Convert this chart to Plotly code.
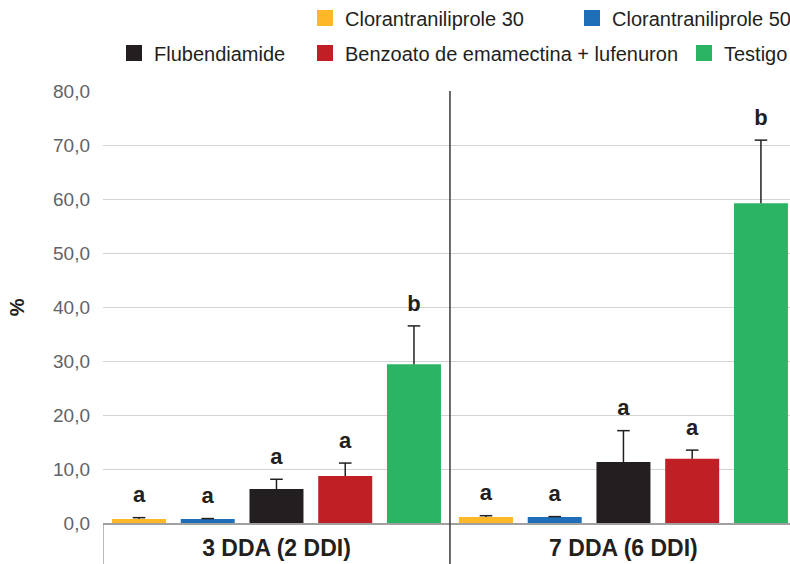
import plotly.graph_objects as go

categories = ["3 DDA (2 DDI)", "7 DDA (6 DDI)"]
series_names = ["Clorantraniliprole 30", "Clorantraniliprole 50", "Flubendiamide",
                "Benzoato de emamectina + lufenuron", "Testigo"]
values_c30 = [0.74, 1.1]
values_c50 = [0.74, 1.1]
values_flu = [6.3, 11.3]
values_ben = [8.7, 11.9]
values_tes = [29.4, 59.2]
err_c30 = [0.25, 0.25]
err_c50 = [0.08, 0.08]
err_flu = [1.8, 5.8]
err_ben = [2.4, 1.6]
err_tes = [7.1, 11.7]
letters_c30 = ["a", "a"]
letters_c50 = ["a", "a"]
letters_flu = ["a", "a"]
letters_ben = ["a", "a"]
letters_tes = ["b", "b"]
y_ticks = [0, 10, 20, 30, 40, 50, 60, 70, 80]

colors = ["#FDB827", "#1F6FB8", "#231F20", "#C01F26", "#2AB463"]
values = [values_c30, values_c50, values_flu, values_ben, values_tes]
errors = [err_c30, err_c50, err_flu, err_ben, err_tes]
letters = [letters_c30, letters_c50, letters_flu, letters_ben, letters_tes]

FONT = "Liberation Sans, Arial, Helvetica, sans-serif"
DARK = "#231F20"
W, H = 790, 564

# legend placement (pixels in the page): item left x, row centre y
legend_ids = ["legend", "legend2", "legend3", "legend4", "legend5"]
legend_x_px = [305, 572, 114, 305, 684]
legend_y_px = [18, 18, 53, 53, 53]

fig = go.Figure()
for i, name in enumerate(series_names):
    fig.add_trace(go.Bar(
        x=categories, y=values[i], name=name,
        marker=dict(color=colors[i], line=dict(width=0)),
        offsetgroup=str(i),
        error_y=dict(type="data", array=errors[i], arrayminus=[0] * len(errors[i]),
                     symmetric=False, color=DARK, thickness=1.5, width=0),
        showlegend=False,
        hoverinfo="skip",
    ))
tops = [[v + e for v, e in zip(values[i], errors[i])] for i in range(5)]
for i, name in enumerate(series_names):
    # error bar caps
    fig.add_trace(go.Scatter(
        x=categories, y=tops[i], mode="markers",
        marker=dict(symbol="line-ew", size=9, line=dict(width=1.5, color=DARK)),
        offsetgroup=str(i), showlegend=False, hoverinfo="skip",
    ))
    # significance letters
    fig.add_trace(go.Scatter(
        x=categories, y=tops[i], mode="markers+text", text=letters[i],
        textposition="top center",
        textfont=dict(family=FONT, size=22, color=DARK, weight="bold"),
        marker=dict(size=14, opacity=0),
        offsetgroup=str(i), showlegend=False, hoverinfo="skip",
    ))
    # legend entry (larger square swatch)
    fig.add_trace(go.Scatter(
        x=[None], y=[None], mode="markers", name=name,
        marker=dict(symbol="square", size=16, color=colors[i], line=dict(width=0)),
        offsetgroup=str(i), legend=legend_ids[i], showlegend=True, hoverinfo="skip",
    ))

layout_legends = {}
for i, lid in enumerate(legend_ids):
    layout_legends[lid] = dict(
        orientation="h", xref="container", yref="container",
        x=legend_x_px[i] / W, xanchor="left",
        y=1 - legend_y_px[i] / H, yanchor="middle",
        font=dict(size=20, color=DARK, family=FONT), bgcolor="rgba(0,0,0,0)",
        borderwidth=0, itemsizing="trace",
    )

fig.update_layout(
    width=W, height=H,
    margin=dict(l=103, r=0, t=91, b=41, autoexpand=False),
    paper_bgcolor="white", plot_bgcolor="white",
    barmode="group", bargap=0.0094, bargroupgap=0.2145,
    scattermode="group", scattergap=0.0094,
    separators=",.",
    font=dict(family=FONT, color=DARK),
    xaxis=dict(type="category", range=[-0.5, 1.48], showline=True, linecolor="#A0A0A0",
               linewidth=1.5, ticks="", showgrid=False, automargin=False,
               tickfont=dict(size=23, color=DARK, weight="bold"), ticklabelstandoff=4),
    yaxis=dict(range=[0, 80], tickvals=y_ticks, tickformat=".1f", showgrid=True,
               gridcolor="#D3D3D3", gridwidth=1, zeroline=False, showline=False,
               automargin=False,
               ticks="", tickfont=dict(size=19, color="#626366"), ticklabelstandoff=12),
    showlegend=True,
    **layout_legends,
)

# category box lines and group separator
fig.add_shape(type="line", xref="x", yref="paper", x0=0.5, x1=0.5, y0=-0.095, y1=1,
              line=dict(color="#3A3A3A", width=1.5))
fig.add_shape(type="line", xref="x", yref="paper", x0=-0.5, x1=-0.5, y0=-0.095, y1=0,
              line=dict(color="#A0A0A0", width=1.5))

fig.add_annotation(text="%", textangle=-90, xref="paper", yref="paper",
                   x=-0.125, y=0.5, xanchor="center", yanchor="middle", showarrow=False,
                   font=dict(size=20, color=DARK, weight="bold"))

fig.write_html("out.html", config={"displayModeBar": False},
               post_script="document.body.style.margin='0';")
